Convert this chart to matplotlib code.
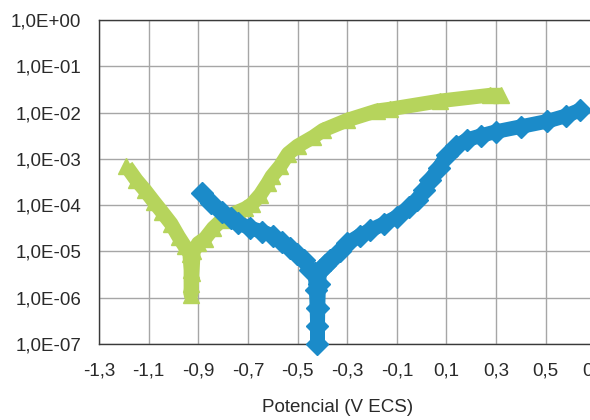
import math
import matplotlib.pyplot as plt
from matplotlib.ticker import FixedLocator, FuncFormatter

plt.rcParams['font.family'] = ['Liberation Sans', 'DejaVu Sans']

# Potential (V ECS) and current density for the two polarisation curves
green_v = [-1.19, -1.15, -1.115, -1.08, -1.047, -1.01, -0.98, -0.955, -0.935,
           -0.93, -0.93, -0.93, -0.925, -0.92, -0.90, -0.873, -0.84, -0.805,
           -0.77, -0.74, -0.71, -0.684, -0.65, -0.62, -0.604, -0.57, -0.538,
           -0.50, -0.436, -0.397, -0.30, -0.18, -0.127, 0.075, 0.277, 0.32]
green_i = [7e-4, 3.5e-4, 2.1e-4, 1.2e-4, 7.2e-5, 4e-5, 2.1e-5, 1.3e-5, 9e-6,
           4e-6, 2e-6, 1.15e-6, 3.5e-6, 1e-5, 1.5e-5, 1.9e-5, 3.2e-5, 4.8e-5,
           6.2e-5, 7.2e-5, 8.5e-5, 1.05e-4, 1.7e-4, 3e-4, 4.2e-4, 7e-4, 1.3e-3,
           1.9e-3, 3e-3, 4.2e-3, 6.9e-3, 1.1e-2, 1.2e-2, 1.8e-2, 2.4e-2, 2.4e-2]

blue_v = [-0.886, -0.85, -0.805, -0.77, -0.74, -0.69, -0.644, -0.60, -0.563,
          -0.53, -0.503, -0.475, -0.449, -0.43, -0.425, -0.422, -0.42, -0.42,
          -0.418, -0.415, -0.41, -0.39, -0.369, -0.33, -0.30, -0.25, -0.207,
          -0.15, -0.10, -0.05, -0.019, 0.01, 0.035, 0.07, 0.102, 0.14, 0.183,
          0.24, 0.30, 0.40, 0.505, 0.58, 0.64]
blue_i = [1.8e-4, 1.1e-4, 7.2e-5, 5.2e-5, 4.1e-5, 3.2e-5, 2.7e-5, 2.2e-5, 1.6e-5,
          1.2e-5, 9e-6, 6.5e-6, 4e-6, 3.4e-6, 1.5e-6, 6e-7, 2.5e-7, 1e-7,
          6e-7, 2e-6, 4e-6, 5e-6, 6.6e-6, 1e-5, 1.5e-5, 2.2e-5, 2.9e-5,
          4e-5, 5.6e-5, 9e-5, 1.3e-4, 2.1e-4, 3.5e-4, 6.5e-4, 1.2e-3, 1.9e-3, 2.6e-3,
          3.2e-3, 3.9e-3, 5e-3, 6.5e-3, 8.5e-3, 1.15e-2]

x_ticks = [-1.3, -1.1, -0.9, -0.7, -0.5, -0.3, -0.1, 0.1, 0.3, 0.5, 0.7]
y_ticks = [1e-7, 1e-6, 1e-5, 1e-4, 1e-3, 1e-2, 1e-1, 1e0]

green = '#b6d45c'
blue = '#1b8bc9'

fig = plt.figure(figsize=(5.9, 4.2), dpi=100)
ax = fig.add_axes([0.168, 0.181, 0.841, 0.771])

ax.plot(green_v, green_i, '-', color=green, lw=10.5, solid_joinstyle='round',
        solid_capstyle='butt', clip_on=False, zorder=3)
ax.plot(green_v, green_i, '^', color=green, ms=12, clip_on=False, zorder=3)
ax.plot(blue_v, blue_i, '-', color=blue, lw=10.5, solid_joinstyle='round',
        solid_capstyle='butt', clip_on=False, zorder=4)
ax.plot(blue_v, blue_i, 'D', color=blue, ms=11, clip_on=False, zorder=4)

ax.set_yscale('log')
ax.set_xlim(-1.3, 0.7)
ax.set_ylim(1e-7, 1e0)
ax.xaxis.set_major_locator(FixedLocator(x_ticks))
ax.yaxis.set_major_locator(FixedLocator(y_ticks))
ax.yaxis.set_minor_locator(FixedLocator([]))
ax.xaxis.set_major_formatter(FuncFormatter(lambda v, p: f'{v:.1f}'.replace('.', ',')))


def sci_label(v, p):
    exp = int(round(math.log10(v)))
    sign = '+' if exp >= 0 else '-'
    return f'1,0E{sign}{abs(exp):02d}'


ax.yaxis.set_major_formatter(FuncFormatter(sci_label))
ax.tick_params(axis='both', length=0, labelsize=13.5, colors='#2a2a2a')
ax.tick_params(axis='y', pad=13)
ax.tick_params(axis='x', pad=13)

ax.grid(True, color='#a6a6a6', lw=1)
ax.set_axisbelow(True)
for s in ax.spines.values():
    s.set_color('#3a3a3a')
    s.set_linewidth(1)

ax.set_xlabel('Potencial (V ECS)', fontsize=13.5, color='#2a2a2a')
ax.xaxis.set_label_coords(0.48, -0.17)

fig.savefig('out.png', dpi=100)
